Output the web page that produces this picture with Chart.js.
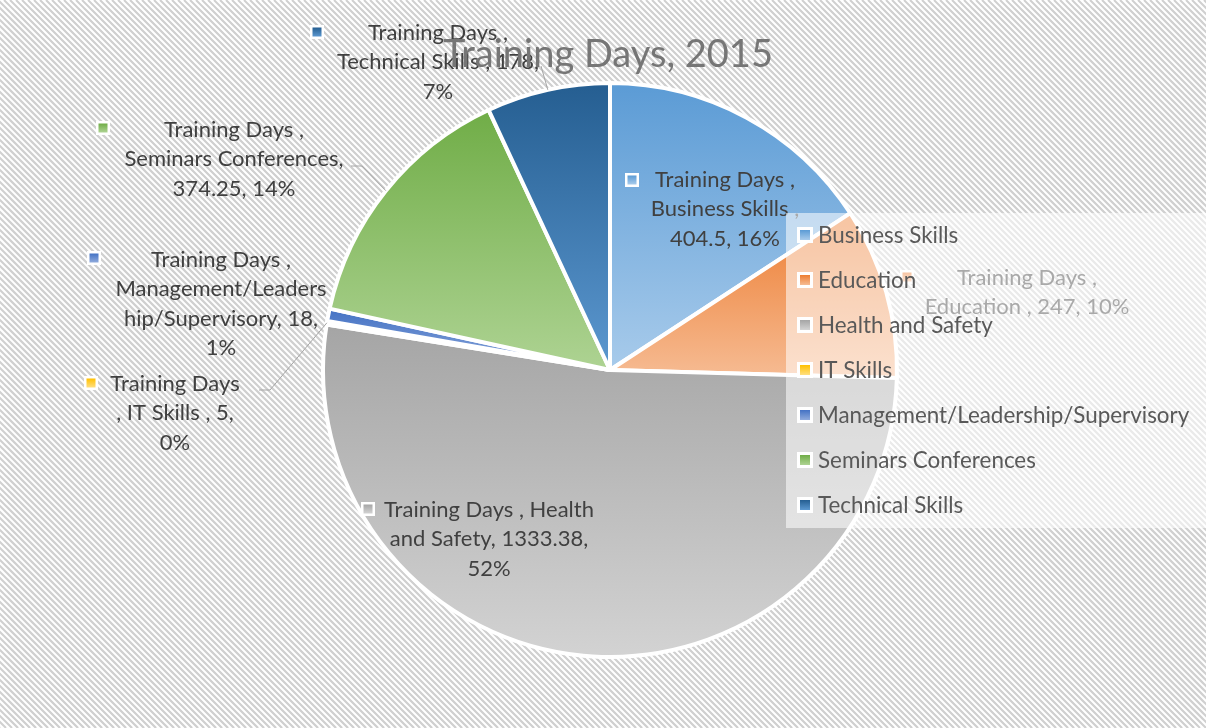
<!DOCTYPE html>
<html>
<head>
<meta charset="utf-8">
<title>Training Days, 2015</title>
<script src="https://cdn.jsdelivr.net/npm/chart.js@4.4.1/dist/chart.umd.min.js"></script>
<style>
  html, body { margin: 0; padding: 0; background: #fff; }
  #wrap { width: 1206px; height: 728px; }
</style>
</head>
<body>
<div id="wrap"><canvas id="chart" width="1206" height="728"></canvas></div>
<script>
const chartTitle = "Training Days, 2015";
const categories = [
  "Business Skills",
  "Education",
  "Health and Safety",
  "IT Skills",
  "Management/Leadership/Supervisory",
  "Seminars Conferences",
  "Technical Skills",
];
const trainingDays = [404.5, 247, 1333.38, 5, 18, 374.25, 178];
const baseColors = ["#5b9bd5", "#ed7d31", "#a5a5a5", "#ffc000", "#4472c4", "#70ad47", "#255e91"];
const lightColors = ["#a8cbeb", "#f6bc94", "#d3d3d3", "#ffdf80", "#8faadc", "#aed393", "#5c98d0"];
// data label text, line by line, as Excel wrapped it
const labelLines = [
  ["Training Days ,", "Business Skills ,", "404.5, 16%"],
  ["Training Days ,", "Education , 247, 10%"],
  ["Training Days , Health", "and Safety, 1333.38,", "52%"],
  ["Training Days", ", IT Skills , 5,", "0%"],
  ["Training Days ,", "Management/Leaders", "hip/Supervisory, 18,", "1%"],
  ["Training Days ,", "Seminars Conferences,", "374.25, 14%"],
  ["Training Days ,", "Technical Skills , 178,", "7%"],
];

const FONT = "Lato, 'Open Sans', sans-serif";

// where each data label sits (text centre x, first line y, marker) and leader bends
const labelPlace = [
  { x: 725, y: 180, mx: 632, my: 180 },
  { x: 1027, y: 278, mx: 907, my: 277 },
  { x: 489, y: 510, mx: 368, my: 509 },
  { x: 175, y: 384, mx: 91, my: 383, leader: [[259, 390], [270, 390]] },
  { x: 221, y: 260, mx: 94, my: 258 },
  { x: 234, y: 130, mx: 103, my: 128, leader: [[351, 166], [362, 166]] },
  { x: 438, y: 33, mx: 317, my: 32, leader: [[541, 66]] },
];

function roundRect(ctx, x, y, w, h, r) {
  ctx.beginPath();
  ctx.moveTo(x + r, y);
  ctx.lineTo(x + w - r, y);
  ctx.arcTo(x + w, y, x + w, y + r, r);
  ctx.lineTo(x + w, y + h - r);
  ctx.arcTo(x + w, y + h, x + w - r, y + h, r);
  ctx.lineTo(x + r, y + h);
  ctx.arcTo(x, y + h, x, y + h - r, r);
  ctx.lineTo(x, y + r);
  ctx.arcTo(x, y, x + r, y, r);
  ctx.closePath();
}

const backgroundPlugin = {
  id: "hatchBackground",
  beforeDraw(chart) {
    const ctx = chart.ctx;
    const w = chart.width, h = chart.height;
    ctx.save();
    ctx.fillStyle = "#fff";
    ctx.fillRect(0, 0, w, h);
    roundRect(ctx, 7.5, 8.5, 1196, 722, 16);
    ctx.save();
    ctx.clip();
    ctx.strokeStyle = "#e0e0e0";
    ctx.lineWidth = 2;
    ctx.beginPath();
    for (let k = -h; k < w + h; k += 6) {
      ctx.moveTo(k, 0);
      ctx.lineTo(k + h, h);
    }
    ctx.stroke();
    ctx.restore();
    ctx.strokeStyle = "#d0d0d0";
    ctx.lineWidth = 2;
    ctx.stroke();
    ctx.restore();
  },
};

function arcSpan(arc) {
  const p = arc.getProps(["x", "y", "startAngle", "endAngle", "outerRadius"], true);
  const ys = [p.y, p.y + p.outerRadius * Math.sin(p.startAngle), p.y + p.outerRadius * Math.sin(p.endAngle)];
  for (let k = -4; k <= 8; k++) {
    const a = (k * Math.PI) / 2;
    if (a > p.startAngle && a < p.endAngle) ys.push(p.y + p.outerRadius * Math.sin(a));
  }
  return { top: Math.min(...ys), bottom: Math.max(...ys) };
}

const gradientPlugin = {
  id: "sliceGradient",
  beforeDatasetsDraw(chart) {
    const ctx = chart.ctx;
    chart.getDatasetMeta(0).data.forEach((arc, i) => {
      const s = arcSpan(arc);
      const g = ctx.createLinearGradient(0, s.top, 0, s.bottom + 1);
      g.addColorStop(0, baseColors[i]);
      g.addColorStop(1, lightColors[i]);
      arc.options.backgroundColor = g;
    });
  },
};

function marker(ctx, cx, cy, inner, border, i) {
  const h = inner / 2;
  ctx.fillStyle = "#fff";
  ctx.fillRect(cx - h - border, cy - h - border, inner + border * 2, inner + border * 2);
  const g = ctx.createLinearGradient(0, cy - h, 0, cy + h);
  g.addColorStop(0, baseColors[i]);
  g.addColorStop(1, lightColors[i]);
  ctx.fillStyle = g;
  ctx.fillRect(cx - h, cy - h, inner, inner);
}

const labelPlugin = {
  id: "excelLabels",
  afterDatasetsDraw(chart) {
    const ctx = chart.ctx;
    const arcs = chart.getDatasetMeta(0).data;
    ctx.save();

    // data labels
    ctx.font = "22px " + FONT;
    ctx.textAlign = "center";
    ctx.textBaseline = "middle";
    labelPlace.forEach((pl, i) => {
      if (pl.leader) {
        const p = arcs[i].getProps(["x", "y", "startAngle", "endAngle", "outerRadius"], true);
        const mid = (p.startAngle + p.endAngle) / 2;
        ctx.strokeStyle = "#a6a6a6";
        ctx.lineWidth = 1;
        ctx.beginPath();
        pl.leader.forEach((pt, k) => (k ? ctx.lineTo(pt[0], pt[1]) : ctx.moveTo(pt[0], pt[1])));
        ctx.lineTo(p.x + p.outerRadius * Math.cos(mid), p.y + p.outerRadius * Math.sin(mid));
        ctx.stroke();
      }
      marker(ctx, pl.mx, pl.my, 9, 2.5, i);
      ctx.fillStyle = "#404040";
      labelLines[i].forEach((line, k) => ctx.fillText(line, pl.x, pl.y + k * 29.3));
    });

    // legend with translucent box over the pie
    ctx.fillStyle = "rgba(255,255,255,0.55)";
    ctx.fillRect(786, 213, 420, 315);
    ctx.textAlign = "left";
    ctx.font = "22.4px " + FONT;
    chart.data.labels.forEach((name, i) => {
      const y = 235 + i * 45;
      marker(ctx, 805, y, 10, 3, i);
      ctx.fillStyle = "#595959";
      ctx.fillText(name, 818, y + 1);
    });

    // title
    ctx.font = "38px " + FONT;
    ctx.textAlign = "center";
    ctx.textBaseline = "alphabetic";
    ctx.fillStyle = "#767676";
    ctx.fillText(chartTitle, 608, 67);
    ctx.restore();
  },
};

new Chart(document.getElementById("chart"), {
  type: "pie",
  data: {
    labels: categories,
    datasets: [
      {
        label: "Training Days",
        data: trainingDays,
        backgroundColor: baseColors,
        borderColor: "#ffffff",
        borderWidth: 4,
      },
    ],
  },
  options: {
    responsive: false,
    animation: false,
    layout: { padding: { left: 321, right: 307, top: 81, bottom: 69 } },
    plugins: {
      legend: { display: false },
      title: { display: false },
      tooltip: { enabled: false },
    },
  },
  plugins: [backgroundPlugin, gradientPlugin, labelPlugin],
});
</script>
</body>
</html>
